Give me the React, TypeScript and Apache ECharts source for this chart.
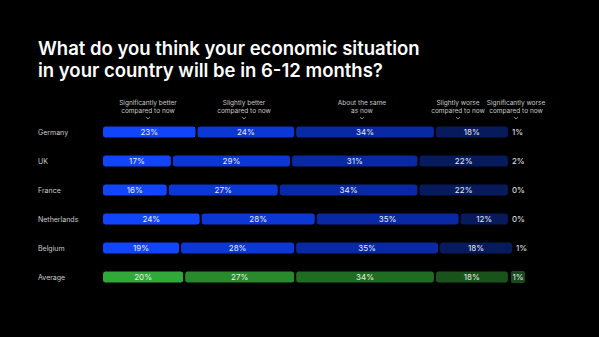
import React, { useEffect, useRef } from "react";
import * as echarts from "echarts";

const countries = ["Germany", "UK", "France", "Netherlands", "Belgium", "Average"];
const answerOptions = [
  "Significantly better\ncompared to now",
  "Slightly better\ncompared to now",
  "About the same\nas now",
  "Slightly worse\ncompared to now",
  "Significantly worse\ncompared to now",
];
const sigBetter = [23, 17, 16, 24, 19, 20];
const slightBetter = [24, 29, 27, 28, 28, 27];
const aboutSame = [34, 31, 34, 35, 35, 34];
const slightWorse = [18, 22, 22, 12, 18, 18];
const sigWorse = [1, 2, 0, 0, 1, 1];
const headerX = [148, 244, 362, 458, 516];

const blues = ["#1145fb", "#0b37d4", "#0928a3", "#071a5c", "#061450"];
const greens = ["#30a83a", "#288a2c", "#1f6d23", "#1a521c", "#1a4a1c"];

export default function App() {
  const ref = useRef<HTMLDivElement>(null);
  useEffect(() => {
    if (!ref.current) return;
    const chart = echarts.init(ref.current, undefined, { renderer: "svg" });
    const all = [sigBetter, slightBetter, aboutSame, slightWorse, sigWorse];
    const series = all.map((vals, si) => ({
      type: "bar",
      stack: "total",
      name: answerOptions[si],
      barWidth: 13,
      clip: false,
      data: vals.map((v, ri) => {
        const isAvg = countries[ri] === "Average";
        const item: any = {
          value: v,
          itemStyle:
            si === 4
              ? { color: "transparent", borderWidth: 0 }
              : {
                  color: isAvg ? greens[si] : blues[si],
                  borderColor: "#000",
                  borderWidth: 1,
                  borderRadius: 3,
                },
        };
        if (si === 4) {
          item.label = {
            show: true,
            position: "insideLeft",
            distance: isAvg ? 2 : 3,
            formatter: "{c}%",
            color: "#e8e8e8",
            fontSize: 8,
            fontFamily: "Inter",
            backgroundColor: isAvg ? greens[4] : "transparent",
            padding: isAvg ? [2, 1.5, 2, 1.5] : 0,
            borderRadius: 2,
          };
        }
        return item;
      }),
      label:
        si < 4
          ? {
              show: true,
              position: "inside",
              formatter: "{c}%",
              color: "#ececec",
              fontSize: 8,
              fontFamily: "Inter",
            }
          : { show: false },
    }));
    const graphics: any[] = [
      {
        type: "text",
        left: 38,
        top: 37,
        style: {
          text: "What do you think your economic situation\nin your country will be in 6-12 months?",
          fill: "#ffffff",
          font: "600 18.5px Inter",
          lineHeight: 22,
        },
      },
    ];
    answerOptions.forEach((t, i) => {
      graphics.push({
        type: "text",
        x: headerX[i],
        y: 99,
        style: {
          text: t,
          fill: "#c8c8c8",
          font: "6.5px Inter",
          align: "center",
          lineHeight: 8,
        },
      });
      graphics.push({
        type: "polyline",
        shape: {
          points: [
            [headerX[i] - 2, 117],
            [headerX[i], 119],
            [headerX[i] + 2, 117],
          ],
        },
        style: { stroke: "#aaaaaa", lineWidth: 0.8, fill: null },
      });
    });
    chart.setOption({
      animation: false,
      backgroundColor: "#000000",
      grid: { left: 102, top: 117.5, width: 411, height: 174 },
      xAxis: {
        type: "value",
        min: 0,
        max: 100,
        show: false,
      },
      yAxis: {
        type: "category",
        data: countries,
        inverse: true,
        axisLine: { show: false },
        axisTick: { show: false },
        axisLabel: {
          align: "left",
          margin: 64,
          color: "#cccccc",
          fontSize: 7,
          fontFamily: "Inter",
        },
      },
      graphic: graphics,
      series,
    });
    return () => chart.dispose();
  }, []);
  return (
    <div
      ref={ref}
      style={{ position: "fixed", left: 0, top: 0, width: 599, height: 337, background: "#000" }}
    />
  );
}
